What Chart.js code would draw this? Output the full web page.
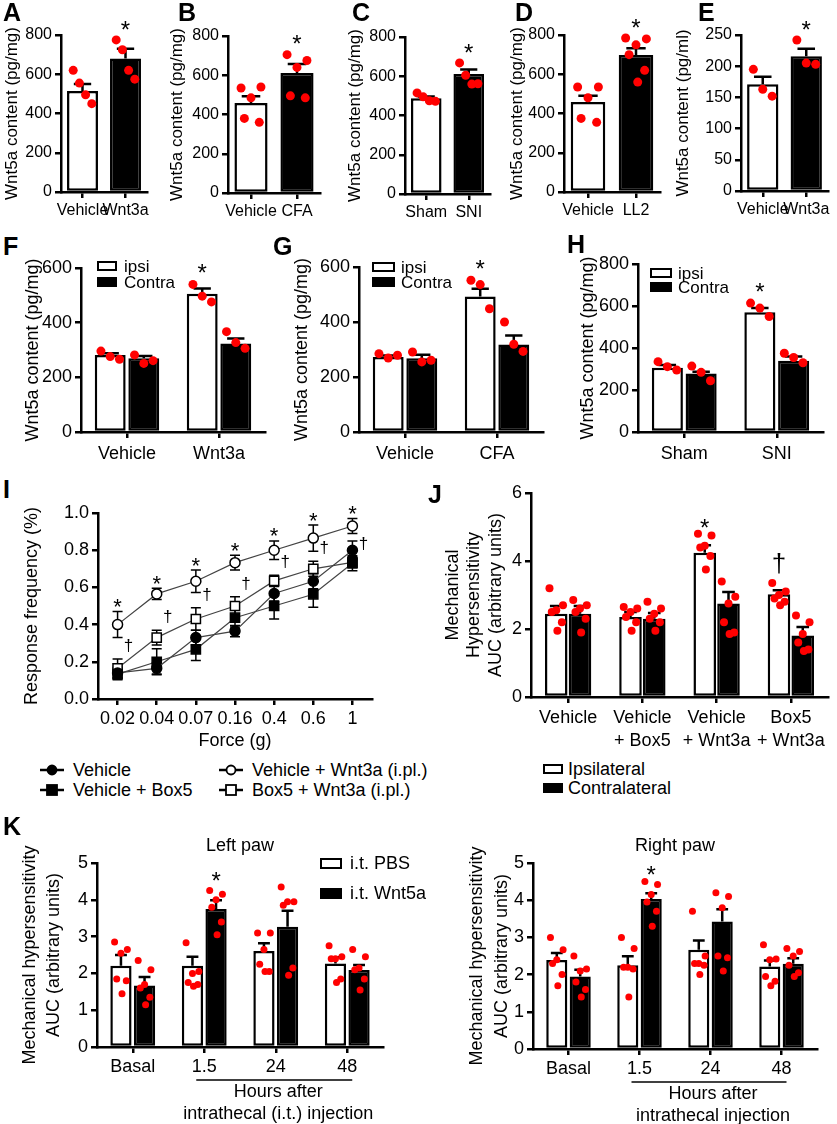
<!DOCTYPE html>
<html>
<head>
<meta charset="utf-8">
<script src="https://cdn.jsdelivr.net/npm/chart.js@4.4.1/dist/chart.umd.min.js"></script>
<style>
  body { margin: 0; background: #fff; }
  #fig { position: relative; width: 837px; height: 1124px; overflow: hidden;
         font-family: 'Liberation Sans', Arial, sans-serif; color: #000; }
  #fig canvas, #fig .t, #fig .box, #fig svg { position: absolute; }
  .t { white-space: nowrap; line-height: 1; }
  .letter { font-weight: bold; font-size: 25px; }
  .box { border: 2.5px solid #000; box-sizing: border-box; background: #fff; }
  .box.fill { background: #000; }
</style>
</head>
<body>
<div id="fig"></div>
<script>
const FONT = "'Liberation Sans', Arial, sans-serif";
Chart.defaults.font.family = FONT;
Chart.defaults.color = '#000';
Chart.defaults.animation = false;
Chart.defaults.plugins.legend.display = false;
Chart.defaults.plugins.tooltip.enabled = false;

// ---------- A - E : Wnt5a content ----------
const catA = ['Vehicle', 'Wnt3a'];
const meanA = [515, 680];
const semA = [35, 50];
const ptsA = [[620, 555, 495, 450], [775, 725, 620, 575]];

const catB = ['Vehicle', 'CFA'];
const meanB = [458, 612];
const semB = [35, 45];
const ptsB = [[535, 540, 485, 380, 360], [705, 675, 640, 495, 485]];

const catC = ['Sham', 'SNI'];
const meanC = [488, 611];
const semC = [9, 23];
const ptsC = [[515, 495, 475, 472], [668, 605, 560, 562]];

const catD = ['Vehicle', 'LL2'];
const meanD = [458, 698];
const semD = [32, 34];
const ptsD = [[535, 535, 480, 375, 355], [785, 780, 750, 700, 620, 560]];

const catE = ['Vehicle', 'Wnt3a'];
const meanE = [171, 216];
const semE = [12, 12];
const ptsE = [[195, 163, 152], [242, 205, 203]];

const starTop = ['', '*'];

// ---------- F - H : ipsi / contra ----------
const catF = ['Vehicle', 'Wnt3a'];
const ipsiF = [282, 506];
const ipsiSemF = [6, 19];
const ipsiPtsF = [[296, 276, 266], [540, 497, 476]];
const contraF = [270, 324];
const contraSemF = [8, 18];
const contraPtsF = [[282, 251, 261], [367, 327, 306]];

const catG = ['Vehicle', 'CFA'];
const ipsiG = [273, 493];
const ipsiSemG = [5, 28];
const ipsiPtsG = [[285, 269, 279], [552, 536, 448]];
const contraG = [268, 318];
const contraSemG = [13, 33];
const contraPtsG = [[291, 255, 261], [400, 319, 293]];

const catH = ['Sham', 'SNI'];
const ipsiH = [306, 570];
const ipsiSemH = [13, 20];
const ipsiPtsH = [[335, 311, 295], [614, 590, 550]];
const contraH = [279, 339];
const contraSemH = [8, 20];
const contraPtsH = [[314, 284, 244], [375, 355, 330]];

const starGroup = ['', '*'];

// ---------- I : response frequency ----------
const forceLabels = ['0.02', '0.04', '0.07', '0.16', '0.4', '0.6', '1'];
const vehI = [0.14, 0.165, 0.33, 0.365, 0.567, 0.633, 0.80];
const vehSemI = [0.03, 0.03, 0.04, 0.03, 0.04, 0.04, 0.05];
const box5I = [0.134, 0.20, 0.267, 0.437, 0.50, 0.563, 0.73];
const box5SemI = [0.03, 0.07, 0.06, 0.05, 0.07, 0.07, 0.04];
const wntI = [0.40, 0.565, 0.633, 0.733, 0.80, 0.865, 0.93];
const wntSemI = [0.07, 0.03, 0.06, 0.04, 0.05, 0.07, 0.04];
const box5WntI = [0.165, 0.33, 0.43, 0.50, 0.635, 0.70, 0.735];
const box5WntSemI = [0.05, 0.04, 0.06, 0.05, 0.03, 0.04, 0.03];
const starI = ['*', '*', '*', '*', '*', '*', '*'];
const daggerI = ['†', '†', '†', '†', '†', '†', '†'];

// ---------- J : AUC ----------
const catJ = [['Vehicle'], ['Vehicle', '+ Box5'], ['Vehicle', '+ Wnt3a'], ['Box5', '+ Wnt3a']];
const ipsiJ = [2.45, 2.35, 4.24, 3.02];
const ipsiSemJ = [0.23, 0.15, 0.22, 0.12];
const ipsiPtsJ = [[3.2, 2.7, 2.55, 2.5, 2.2, 1.95], [2.65, 2.6, 2.5, 2.35, 2.2, 1.95],
                  [4.8, 4.75, 4.45, 4.4, 4.15, 3.75], [3.35, 3.1, 3.0, 2.9, 2.8, 2.7]];
const contraJ = [2.45, 2.3, 2.75, 1.81];
const contraSemJ = [0.23, 0.17, 0.34, 0.25];
const contraPtsJ = [[2.85, 2.7, 2.6, 2.5, 2.3, 1.9], [2.8, 2.6, 2.45, 2.3, 2.2, 1.95],
                    [3.4, 2.95, 2.75, 2.2, 1.9, 1.85], [2.4, 2.2, 1.85, 1.6, 1.4, 1.35]];
const marksJ = ['', '', '*', '†'];

// ---------- K : left / right paw ----------
const catK = ['Basal', '1.5', '24', '48'];
const pbsKL = [2.21, 2.21, 2.61, 2.27];
const pbsSemKL = [0.29, 0.24, 0.21, 0.17];
const pbsPtsKL = [[2.85, 2.65, 2.55, 1.85, 1.8, 1.45], [2.83, 2.05, 2.0, 1.75, 1.7, 1.65],
                  [3.1, 3.1, 2.65, 2.25, 2.05, 2.05], [2.75, 2.45, 2.4, 2.4, 1.85, 1.75]];
const wntKL = [1.67, 3.75, 3.27, 2.09];
const wntSemKL = [0.23, 0.24, 0.43, 0.14];
const wntPtsKL = [[2.35, 2.1, 1.7, 1.6, 1.35, 1.15], [4.25, 4.15, 4.0, 3.8, 3.4, 3.05],
                  [4.35, 3.95, 3.95, 3.85, 2.15, 1.95], [2.65, 2.45, 2.15, 2.1, 1.85, 1.55]];

const pbsKR = [2.39, 2.25, 2.67, 2.22];
const pbsSemKR = [0.19, 0.24, 0.25, 0.16];
const pbsPtsKR = [[3.0, 2.67, 2.4, 2.3, 2.0, 1.7], [3.0, 2.7, 2.2, 2.2, 2.15, 1.4],
                  [3.7, 2.5, 2.3, 2.3, 2.25, 2.0], [2.8, 2.42, 2.4, 1.95, 1.82, 1.7]];
const wntKR = [1.95, 4.03, 3.43, 2.29];
const wntSemKR = [0.18, 0.16, 0.33, 0.15];
const wntPtsKR = [[2.5, 2.15, 2.1, 1.8, 1.6, 1.4], [4.5, 4.42, 4.15, 3.95, 3.7, 3.3],
                  [4.2, 4.1, 3.8, 2.5, 2.45, 2.1], [2.7, 2.62, 2.5, 2.25, 2.05, 1.95]];
const marksK = ['', '*', '', ''];

const fig = document.getElementById('fig');

function addCanvas(x, y, w, h) {
  const c = document.createElement('canvas');
  c.width = w; c.height = h;
  c.style.cssText = `left:${x}px;top:${y}px;width:${w}px;height:${h}px`;
  fig.appendChild(c);
  return c;
}

function addText(txt, x, cy, size, cls) {
  const d = document.createElement('div');
  d.className = 't ' + (cls || '');
  d.textContent = txt;
  d.style.left = x + 'px';
  d.style.top = (cy - size / 2) + 'px';
  d.style.fontSize = size + 'px';
  fig.appendChild(d);
}

function addBox(x, cy, w, h, filled) {
  const d = document.createElement('div');
  d.className = 'box' + (filled ? ' fill' : '');
  d.style.cssText = `left:${x}px;top:${cy - h / 2}px;width:${w}px;height:${h}px`;
  fig.appendChild(d);
}

// horizontal place of the red dots inside a bar (fraction of bar width)
function spread(k, n) {
  if (n === 1) return 0;
  if (n <= 4) return -0.3 + 0.6 * k / (n - 1);
  return [-0.3, 0.3, 0, -0.2, 0.25, 0.05][k % 6];
}

function drawMark(ctx, m, x, cy, size) {
  ctx.font = size + 'px ' + FONT;
  ctx.textAlign = 'center';
  ctx.textBaseline = 'alphabetic';
  ctx.fillStyle = '#000';
  ctx.fillText(m, x, m === '*' ? cy + 0.57 * size : cy + 0.29 * size);
}

// error bars, scatter dots and significance marks on bar charts
const barMarks = {
  id: 'barMarks',
  afterDatasetsDraw(chart, args, o) {
    const ctx = chart.ctx, y = chart.scales.y;
    chart.data.datasets.forEach((ds, i) => {
      chart.getDatasetMeta(i).data.forEach((bar, j) => {
        const w = bar.width;
        const top = y.getPixelForValue(ds.data[j] + ds.sem[j]);
        ctx.save();
        ctx.strokeStyle = '#000';
        ctx.lineWidth = o.lw;
        ctx.beginPath();
        ctx.moveTo(bar.x, bar.y); ctx.lineTo(bar.x, top);
        ctx.moveTo(bar.x - w * 0.28, top); ctx.lineTo(bar.x + w * 0.28, top);
        ctx.stroke();
        let minY = top;
        ctx.fillStyle = '#ff0000';
        const pts = ds.pts[j];
        pts.forEach((v, k) => {
          const py = y.getPixelForValue(v);
          minY = Math.min(minY, py);
          ctx.beginPath();
          ctx.arc(bar.x + spread(k, pts.length) * w, py, o.r, 0, Math.PI * 2);
          ctx.fill();
        });
        const m = ds.marks[j];
        if (m) {
          const size = m === '†' ? o.daggerSize : o.size;
          drawMark(ctx, m, bar.x, minY - o.gap - (m === '†' ? 0.3 * size : 0), size);
        }
        ctx.restore();
      });
    });
  }
};

// bracket + two-line note under the K panels
const hoursNote = {
  id: 'hoursNote',
  afterDraw(chart, args, o) {
    if (!o.lines) return;
    const ctx = chart.ctx, x = chart.scales.x, b = chart.chartArea.bottom;
    const l = x.getPixelForValue(1) - 8, r = x.getPixelForValue(3) + 5;
    ctx.save();
    ctx.strokeStyle = '#000';
    ctx.lineWidth = 1.5;
    ctx.beginPath(); ctx.moveTo(l, b + 33); ctx.lineTo(r, b + 33); ctx.stroke();
    ctx.font = '18px ' + FONT;
    ctx.fillStyle = '#000';
    ctx.textAlign = 'center';
    ctx.textBaseline = 'middle';
    o.lines.forEach((t, k) => ctx.fillText(t, (l + r) / 2 + 4, b + 45 + k * 22));
    ctx.restore();
  }
};

function axisStyle(lw) {
  return {
    grid: { display: true, drawOnChartArea: false, drawTicks: true, tickLength: 6, color: '#000', lineWidth: lw, offset: false },
    border: { display: true, color: '#000', width: lw }
  };
}

function barPanel(p) {
  const padTop = p.axisTop - p.top;
  const w = p.yw + p.plotW + p.padRight;
  const h = padTop + (p.axisBottom - p.axisTop) + p.xh;
  const cv = addCanvas(p.left, p.top, w, h);
  let layoutTop = padTop;
  let title = { display: false };
  if (p.chartTitle) {
    layoutTop = padTop - p.tsize * 1.2 - 6;
    title = { display: true, text: p.chartTitle, fullSize: false, color: '#000',
              font: { size: p.tsize, weight: 'normal', lineHeight: 1.2 }, padding: { top: 0, bottom: 6 } };
  }
  new Chart(cv, {
    type: 'bar',
    data: {
      labels: p.cats,
      datasets: p.series.map(s => ({
        data: s.data, sem: s.sem, pts: s.pts, marks: s.marks || [],
        backgroundColor: s.fill, borderColor: '#000', borderWidth: p.lw, borderSkipped: false,
        barPercentage: p.barPct, categoryPercentage: p.catPct
      }))
    },
    options: {
      responsive: false,
      maintainAspectRatio: false,
      layout: { padding: { top: layoutTop, right: p.padRight, left: 0, bottom: 0 } },
      plugins: {
        title: title,
        barMarks: { lw: p.lw, r: p.dot, size: 24, daggerSize: 26, gap: p.gap },
        hoursNote: { lines: p.note }
      },
      scales: {
        x: Object.assign(axisStyle(p.lw), {
          offset: true,
          ticks: { font: { size: p.tsize, lineHeight: p.xLH || 1.2 }, padding: p.xPad || 3, maxRotation: 0, autoSkip: false, color: '#000' },
          afterFit: s => { s.height = p.xh; }
        }),
        y: Object.assign(axisStyle(p.lw), {
          min: 0, max: p.yMax,
          ticks: { stepSize: p.yStep, font: { size: p.tsize }, padding: 3, color: '#000' },
          title: { display: true, text: p.yTitle, color: '#000',
                   font: { size: p.titleSize, lineHeight: p.titleLH || 1.2 }, padding: { top: 2, bottom: 0 } },
          afterFit: s => { s.width = p.yw; }
        })
      }
    },
    plugins: [barMarks, hoursNote]
  });
}

const wntTitle = 'Wnt5a content (pg/mg)';
function topPanel(left, yw, axisTop, axisBottom, plotW, padRight, cats, mean, sem, pts, yMax, yStep, yTitle) {
  barPanel({
    left, top: 0, yw, axisTop, axisBottom, plotW, padRight, xh: 30,
    tsize: 16, titleSize: 17, lw: 2.5, dot: 4.5, gap: 16, barPct: 0.72, catPct: 1,
    yMax, yStep, yTitle, cats,
    series: [{ data: mean, sem: sem, pts: pts, marks: starTop, fill: ['#fff', '#000'] }]
  });
}
topPanel(0, 61, 35, 192, 86, 12, catA, meanA, semA, ptsA, 800, 200, wntTitle);
topPanel(165, 63, 36, 193, 92, 10, catB, meanB, semB, ptsB, 800, 200, wntTitle);
topPanel(343, 62, 37, 194, 85, 10, catC, meanC, semC, ptsC, 800, 200, wntTitle);
topPanel(505, 59, 35, 192, 96, 10, catD, meanD, semD, ptsD, 800, 200, wntTitle);
topPanel(671, 70, 35, 191, 87, 9, catE, meanE, semE, ptsE, 250, 50, 'Wnt5a content (pg/ml)');

function sidePanel(left, yw, axisTop, plotW, padRight, cats, ipsi, contra, yMax) {
  barPanel({
    left, top: 245, yw, axisTop, axisBottom: 432, plotW, padRight, xh: 38, xPad: 5,
    tsize: 18, titleSize: 18, lw: 2.5, dot: 4.5, gap: 17, barPct: 0.92, catPct: 0.73,
    yMax, yStep: 200, yTitle: wntTitle, cats,
    series: [Object.assign({ fill: '#fff', marks: starGroup }, ipsi), Object.assign({ fill: '#000' }, contra)]
  });
}
sidePanel(20, 61, 268, 184, 10, catF,
  { data: ipsiF, sem: ipsiSemF, pts: ipsiPtsF }, { data: contraF, sem: contraSemF, pts: contraPtsF }, 600);
sidePanel(289, 70, 267, 184, 10, catG,
  { data: ipsiG, sem: ipsiSemG, pts: ipsiPtsG }, { data: contraG, sem: contraSemG, pts: contraPtsG }, 600);
sidePanel(575, 63, 264, 185, 12, catH,
  { data: ipsiH, sem: ipsiSemH, pts: ipsiPtsH }, { data: contraH, sem: contraSemH, pts: contraPtsH }, 800);

// J
barPanel({
  left: 440, top: 470, yw: 91, axisTop: 493, axisBottom: 697, plotW: 297, padRight: 9, xh: 60, xLH: 1.3,
  tsize: 18, titleSize: 18, lw: 2.5, dot: 4, gap: 11, barPct: 0.95, catPct: 0.64,
  yMax: 6, yStep: 2, yTitle: ['Mechanical', 'Hypersensitivity', 'AUC (arbitrary units)'], cats: catJ,
  series: [{ data: ipsiJ, sem: ipsiSemJ, pts: ipsiPtsJ, marks: marksJ, fill: '#fff' },
           { data: contraJ, sem: contraSemJ, pts: contraPtsJ, fill: '#000' }]
});

// K
barPanel({
  left: 17, top: 820, yw: 80, axisTop: 863, axisBottom: 1047, plotW: 286, padRight: 10, xh: 77,
  tsize: 18, titleSize: 18, titleLH: 1.28, lw: 2.5, dot: 3.5, gap: 15, barPct: 0.9, catPct: 0.66,
  yMax: 5, yStep: 1, yTitle: ['Mechanical hypersensitivity', 'AUC (arbitrary units)'], cats: catK,
  chartTitle: 'Left paw', note: ['Hours after', 'intrathecal (i.t.) injection'],
  series: [{ data: pbsKL, sem: pbsSemKL, pts: pbsPtsKL, fill: '#fff' },
           { data: wntKL, sem: wntSemKL, pts: wntPtsKL, marks: marksK, fill: '#000' }]
});
barPanel({
  left: 463, top: 820, yw: 70, axisTop: 863, axisBottom: 1049, plotW: 284, padRight: 12, xh: 77,
  tsize: 18, titleSize: 18, titleLH: 1.39, lw: 2.5, dot: 3.5, gap: 12, barPct: 0.9, catPct: 0.66,
  yMax: 5, yStep: 1, yTitle: ['Mechanical hypersensitivity', 'AUC (arbitrary units)'], cats: catK,
  chartTitle: 'Right paw', note: ['Hours after', 'intrathecal injection'],
  series: [{ data: pbsKR, sem: pbsSemKR, pts: pbsPtsKR, fill: '#fff' },
           { data: wntKR, sem: wntSemKR, pts: wntPtsKR, marks: marksK, fill: '#000' }]
});

// ---------- I : line chart ----------
const seriesI = [
  { label: 'Vehicle', data: vehI, sem: vehSemI, fill: '#000', shape: 'circle', r: 5, marks: [], dx: 0 },
  { label: 'Vehicle + Box5', data: box5I, sem: box5SemI, fill: '#000', shape: 'rect', r: 6.5, marks: [], dx: 0 },
  { label: 'Vehicle + Wnt3a (i.pl.)', data: wntI, sem: wntSemI, fill: '#fff', shape: 'circle', r: 5, marks: starI, dx: 0 },
  { label: 'Box5 + Wnt3a (i.pl.)', data: box5WntI, sem: box5WntSemI, fill: '#fff', shape: 'rect', r: 6.5, marks: daggerI, dx: 11 }
];

const lineMarks = {
  id: 'lineMarks',
  beforeDatasetsDraw(chart) {
    const ctx = chart.ctx, y = chart.scales.y;
    ctx.save();
    ctx.strokeStyle = '#000';
    ctx.lineWidth = 1.5;
    chart.data.datasets.forEach((ds, i) => {
      chart.getDatasetMeta(i).data.forEach((pt, j) => {
        const hi = y.getPixelForValue(ds.data[j] + ds.sem[j]);
        const lo = y.getPixelForValue(ds.data[j] - ds.sem[j]);
        ctx.beginPath();
        ctx.moveTo(pt.x, lo); ctx.lineTo(pt.x, hi);
        ctx.moveTo(pt.x - 5, hi); ctx.lineTo(pt.x + 5, hi);
        ctx.moveTo(pt.x - 5, lo); ctx.lineTo(pt.x + 5, lo);
        ctx.stroke();
      });
    });
    ctx.restore();
  },
  afterDatasetsDraw(chart) {
    const ctx = chart.ctx, y = chart.scales.y;
    ctx.save();
    chart.data.datasets.forEach((ds, i) => {
      chart.getDatasetMeta(i).data.forEach((pt, j) => {
        const m = ds.marks[j];
        if (!m) return;
        const hi = y.getPixelForValue(ds.data[j] + ds.sem[j]);
        if (m === '*') drawMark(ctx, m, pt.x, hi - 10, 22);
        else drawMark(ctx, m, pt.x + ds.dx, hi - 13, 17);
      });
    });
    ctx.restore();
  }
};

(function () {
  const left = 19, top = 490, yw = 79, axisTop = 513, axisBottom = 699, plotW = 274, xh = 58, padRight = 12;
  const cv = addCanvas(left, top, yw + plotW + padRight, (axisTop - top) + (axisBottom - axisTop) + xh);
  new Chart(cv, {
    type: 'line',
    data: {
      labels: forceLabels,
      datasets: seriesI.map(s => ({
        label: s.label, data: s.data, sem: s.sem, marks: s.marks, dx: s.dx,
        borderColor: '#444', borderWidth: 1.2, tension: 0,
        pointStyle: s.shape, pointRadius: s.r, pointBackgroundColor: s.fill,
        pointBorderColor: '#000', pointBorderWidth: 1.5
      }))
    },
    options: {
      responsive: false,
      maintainAspectRatio: false,
      layout: { padding: { top: axisTop - top, right: padRight, left: 0, bottom: 0 } },
      scales: {
        x: Object.assign(axisStyle(2.5), {
          offset: true,
          ticks: { font: { size: 18 }, padding: 3, maxRotation: 0, autoSkip: false, color: '#000' },
          title: { display: true, text: 'Force (g)', color: '#000', font: { size: 18 }, padding: { top: 0, bottom: 5 } },
          afterFit: s => { s.height = xh; }
        }),
        y: Object.assign(axisStyle(2.5), {
          min: 0, max: 1,
          ticks: { stepSize: 0.2, font: { size: 18 }, padding: 3, color: '#000', callback: v => v.toFixed(1) },
          title: { display: true, text: 'Response frequency (%)', color: '#000', font: { size: 18 }, padding: { top: 2, bottom: 0 } },
          afterFit: s => { s.width = yw; }
        })
      }
    },
    plugins: [lineMarks]
  });
})();

// ---------- legends and panel letters ----------
const keyX = [40, 40, 219, 219];
const keyY = [770, 790, 770, 790];
seriesI.forEach((s, i) => {
  const cy = keyY[i], x = keyX[i];
  const mark = s.shape === 'circle'
    ? `<circle cx="12" cy="8" r="4.5" fill="${s.fill}" stroke="#000" stroke-width="1.8"/>`
    : `<rect x="7" y="3" width="10" height="10" fill="${s.fill}" stroke="#000" stroke-width="1.8"/>`;
  const svg = document.createElementNS('http://www.w3.org/2000/svg', 'svg');
  svg.setAttribute('width', '24'); svg.setAttribute('height', '16');
  svg.style.left = x + 'px'; svg.style.top = (cy - 8) + 'px';
  svg.innerHTML = `<line x1="0" y1="8" x2="24" y2="8" stroke="#000" stroke-width="2.5"/>` + mark;
  fig.appendChild(svg);
  addText(s.label, x + 33, cy, 18);
});

function groupKey(x, y1, y2, w, h, tx, names, size) {
  addBox(x, y1, w, h, false);
  addBox(x, y2, w, h, true);
  addText(names[0], tx, y1, size);
  addText(names[1], tx, y2, size);
}
groupKey(97, 266, 282, 20, 10, 124, ['ipsi', 'Contra'], 17);
groupKey(372, 267, 282, 23, 10, 401, ['ipsi', 'Contra'], 17);
groupKey(650, 273, 287, 22, 10, 678, ['ipsi', 'Contra'], 17);
groupKey(543, 769, 788, 20, 10, 568, ['Ipsilateral', 'Contralateral'], 18);
groupKey(320, 863, 893, 22, 11, 350, ['i.t. PBS', 'i.t. Wnt5a'], 18);

const letters = [['A', 3, 0], ['B', 178, 0], ['C', 352, 0], ['D', 515, 0], ['E', 698, 0],
                 ['F', 3, 234], ['G', 273, 234], ['H', 567, 232], ['I', 3, 477], ['J', 428, 482], ['K', 3, 814]];
letters.forEach(([t, x, y]) => {
  const d = document.createElement('div');
  d.className = 't letter';
  d.textContent = t;
  d.style.left = x + 'px';
  d.style.top = y + 'px';
  fig.appendChild(d);
});
</script>
</body>
</html>
